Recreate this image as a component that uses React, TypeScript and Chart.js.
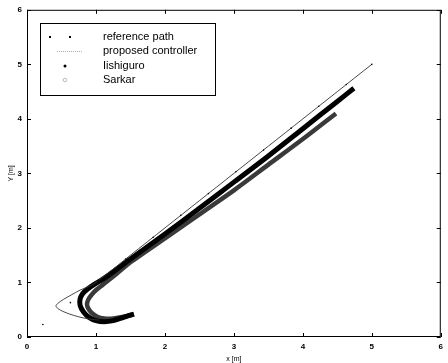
import React, { useEffect, useRef } from "react";
import { Chart, registerables } from "chart.js";

Chart.register(...registerables);

const xTicks = [0, 1, 2, 3, 4, 5, 6];
const yTicks = [0, 1, 2, 3, 4, 5, 6];

const referenceX = [0.23, 0.63, 1.03, 1.43, 1.83, 2.23, 2.63, 3.03, 3.43, 3.83, 4.23, 4.63, 5.0];
const referenceY = [0.23, 0.63, 1.03, 1.43, 1.83, 2.23, 2.63, 3.03, 3.43, 3.83, 4.23, 4.63, 5.0];

const proposedX = [1.05, 0.9, 0.75, 0.62, 0.52, 0.45, 0.42, 0.45, 0.53, 0.64, 0.77, 0.9, 1.0, 1.5, 2.0, 2.5, 3.0, 3.5, 4.0, 4.5, 5.0];
const proposedY = [0.31, 0.33, 0.37, 0.42, 0.47, 0.52, 0.57, 0.62, 0.69, 0.77, 0.86, 0.93, 1.0, 1.5, 2.0, 2.5, 3.0, 3.5, 4.0, 4.5, 5.0];

const iishiguroX = [1.55, 1.4, 1.25, 1.12, 1.0, 0.9, 0.82, 0.77, 0.77, 0.81, 0.88, 0.97, 1.1, 1.3, 1.5, 2.0, 2.5, 3.0, 3.5, 4.0, 4.5, 4.74];
const iishiguroY = [0.42, 0.36, 0.3, 0.28, 0.3, 0.36, 0.46, 0.58, 0.7, 0.8, 0.88, 0.96, 1.06, 1.24, 1.43, 1.89, 2.36, 2.84, 3.32, 3.82, 4.32, 4.56];

const sarkarX = [1.55, 1.4, 1.25, 1.12, 1.02, 0.94, 0.89, 0.87, 0.89, 0.94, 1.01, 1.1, 1.3, 1.5, 2.0, 2.5, 3.0, 3.5, 4.0, 4.48];
const sarkarY = [0.42, 0.37, 0.34, 0.34, 0.37, 0.44, 0.52, 0.6, 0.69, 0.78, 0.87, 0.96, 1.16, 1.37, 1.81, 2.25, 2.69, 3.16, 3.63, 4.1];

const legendLabels = ["reference path", "proposed controller", "Iishiguro", "Sarkar"];

const toPts = (xs: number[], ys: number[]) => xs.map((x, i) => ({ x, y: ys[i] }));

const framePlugin = {
  id: "frame",
  afterDraw(chart: any) {
    const { ctx, chartArea: a, scales } = chart;
    ctx.save();
    ctx.strokeStyle = "#000";
    ctx.lineWidth = 1;
    ctx.strokeRect(a.left + 0.5, a.top + 0.5, a.right - a.left - 1, a.bottom - a.top - 1);
    ctx.beginPath();
    xTicks.forEach((v) => {
      const px = Math.round(scales.x.getPixelForValue(v)) + 0.5;
      ctx.moveTo(px, a.bottom);
      ctx.lineTo(px, a.bottom - 4);
      ctx.moveTo(px, a.top);
      ctx.lineTo(px, a.top + 4);
    });
    yTicks.forEach((v) => {
      const py = Math.round(scales.y.getPixelForValue(v)) + 0.5;
      ctx.moveTo(a.left, py);
      ctx.lineTo(a.left + 4, py);
      ctx.moveTo(a.right, py);
      ctx.lineTo(a.right - 4, py);
    });
    ctx.stroke();

    // legend box inside plot
    const bx = 40, by = 23, bw = 175, bh = 72;
    ctx.fillStyle = "#fff";
    ctx.fillRect(bx, by, bw, bh);
    ctx.strokeRect(bx + 0.5, by + 0.5, bw, bh);
    ctx.font = "11px 'Liberation Sans', Arial, sans-serif";
    ctx.textBaseline = "middle";
    ctx.textAlign = "left";
    const rows = [37, 51, 66, 80];
    ctx.fillStyle = "#000";
    legendLabels.forEach((t, i) => ctx.fillText(t, 103, rows[i]));
    // markers
    ctx.fillStyle = "#000";
    ctx.fillRect(49, rows[0] - 1, 2, 2);
    ctx.fillRect(69, rows[0] - 1, 2, 2);
    ctx.strokeStyle = "#aaa";
    ctx.setLineDash([1, 1]);
    ctx.beginPath();
    ctx.moveTo(57, rows[1] + 0.5);
    ctx.lineTo(83, rows[1] + 0.5);
    ctx.stroke();
    ctx.setLineDash([]);
    ctx.fillStyle = "#000";
    ctx.beginPath();
    ctx.arc(65, rows[2], 1.5, 0, Math.PI * 2);
    ctx.fill();
    ctx.strokeStyle = "#bbb";
    ctx.beginPath();
    ctx.arc(65, rows[3], 1.8, 0, Math.PI * 2);
    ctx.stroke();
    ctx.restore();
  },
};

export default function App() {
  const ref = useRef<HTMLCanvasElement>(null);
  useEffect(() => {
    document.body.style.margin = "0";
    const chart = new Chart(ref.current!, {
      type: "scatter",
      data: {
        datasets: [
          {
            label: legendLabels[0],
            data: toPts(referenceX, referenceY),
            showLine: false,
            pointRadius: 0.8,
            pointBackgroundColor: "#000",
            pointBorderWidth: 0,
          },
          {
            label: legendLabels[1],
            data: toPts(proposedX, proposedY),
            showLine: true,
            borderColor: "#333",
            borderWidth: 0.9,
            pointRadius: 0,
            tension: 0.3,
          },
          {
            label: legendLabels[2],
            data: toPts(iishiguroX, iishiguroY),
            showLine: true,
            borderColor: "#000",
            borderWidth: 5,
            pointRadius: 0,
            tension: 0.3,
          },
          {
            label: legendLabels[3],
            data: toPts(sarkarX, sarkarY),
            showLine: true,
            borderColor: "#3a3a3a",
            borderWidth: 4.5,
            pointRadius: 0,
            tension: 0.3,
          },
        ],
      },
      options: {
        animation: false,
        responsive: false,
        layout: { padding: { top: 9, right: 2, left: 0, bottom: 0 } },
        plugins: { legend: { display: false }, tooltip: { enabled: false } },
        scales: {
          x: {
            type: "linear",
            min: 0,
            max: 6,
            afterBuildTicks: (s: any) => { s.ticks = xTicks.map((v) => ({ value: v })); },
            afterFit: (s: any) => { s.height = 26; },
            grid: { display: false, drawTicks: false },
            border: { display: false },
            ticks: { padding: 5, color: "#000", font: { size: 8, weight: "bold", family: "'Liberation Sans', Arial" } },
            title: { display: true, text: "x [m]", color: "#000", padding: { top: 0, bottom: 0 }, font: { size: 7, family: "'Liberation Sans', Arial" } },
          },
          y: {
            type: "linear",
            min: 0,
            max: 6,
            afterBuildTicks: (s: any) => { s.ticks = yTicks.map((v) => ({ value: v })); },
            afterFit: (s: any) => { s.width = 27; },
            grid: { display: false, drawTicks: false },
            border: { display: false },
            ticks: { padding: 5, color: "#000", font: { size: 8, weight: "bold", family: "'Liberation Sans', Arial" } },
            title: { display: true, text: "Y [m]", color: "#000", padding: { top: 7, bottom: 0 }, font: { size: 7, family: "'Liberation Sans', Arial" } },
          },
        },
      },
      plugins: [framePlugin],
    });
    return () => chart.destroy();
  }, []);
  return (
    <div style={{ width: 448, height: 363, background: "#fff" }}>
      <canvas ref={ref} width={448} height={363} style={{ display: "block" }} />
    </div>
  );
}
